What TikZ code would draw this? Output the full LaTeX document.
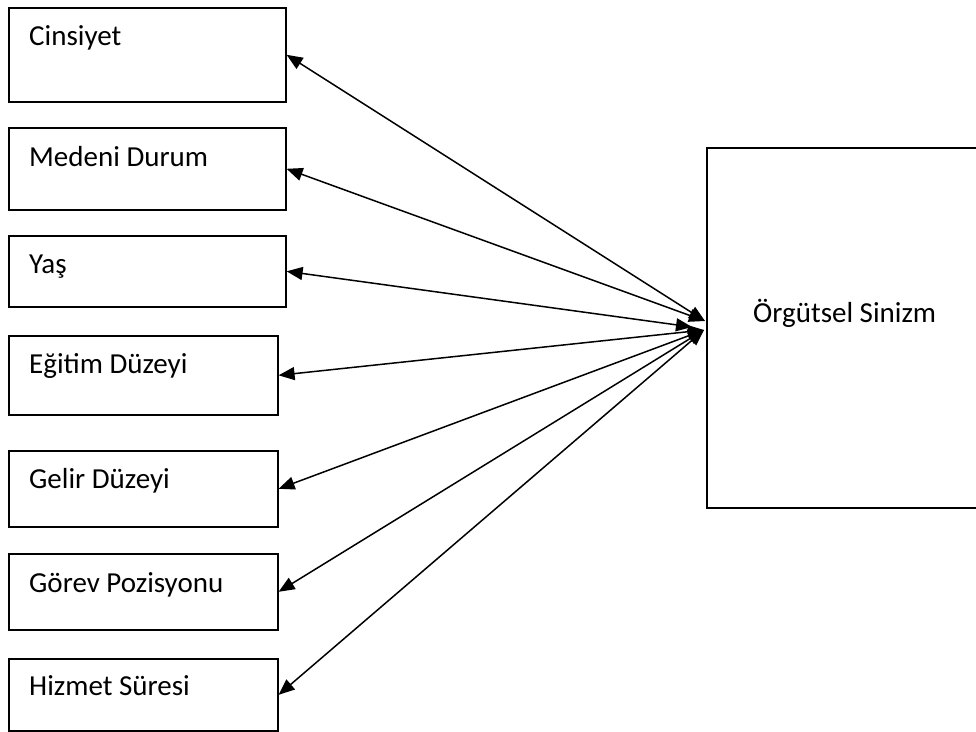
\documentclass[tikz,border=0pt]{standalone}
\usepackage{fontspec}
\setmainfont{Carlito}
\usetikzlibrary{arrows.meta}
\begin{document}
\begin{tikzpicture}[x=1pt,y=-1pt,
  box/.style={draw=black, line width=1.6pt, rectangle, anchor=north west, inner sep=0pt},
  lbl/.style={anchor=base west, inner sep=0pt, font=\fontsize{29}{35}\selectfont},
  link/.style={line width=1.5pt, {Triangle[length=16pt,width=13pt]}-{Triangle[length=16pt,width=13pt]}}]
\useasboundingbox (0,0) rectangle (976,731);
\node[box, minimum width=277pt, minimum height=94pt] (b1) at (8,7) {};
\node[box, minimum width=277pt, minimum height=82pt] (b2) at (8,127) {};
\node[box, minimum width=277pt, minimum height=71pt] (b3) at (8,235) {};
\node[box, minimum width=269pt, minimum height=79pt] (b4) at (8,335) {};
\node[box, minimum width=269pt, minimum height=76pt] (b5) at (8,450) {};
\node[box, minimum width=269pt, minimum height=76pt] (b6) at (8,553) {};
\node[box, minimum width=269pt, minimum height=72pt] (b7) at (8,658) {};
\node[box, minimum width=278pt, minimum height=360pt] (big) at (706,147) {};
\node[lbl] (t1) at (29,45) {Cinsiyet};
\node[lbl] (t2) at (29,166) {Medeni Durum};
\node[lbl] (t3) at (29,273) {Yaş};
\node[lbl] (t4) at (29,373) {Eğitim Düzeyi};
\node[lbl] (t5) at (29,488) {Gelir Düzeyi};
\node[lbl] (t6) at (29,592) {Görev Pozisyonu};
\node[lbl] (t7) at (29,695) {Hizmet Süresi};
\node[lbl] (tb) at (753,322) {Örgütsel Sinizm};
\coordinate (cu) at (705,321);
\coordinate (cy) at (692,327);
\coordinate (cl) at (704,330);
\draw[link] (b1.east) -- (cu);
\draw[link] (b2.east) -- (cu);
\draw[link] (b3.east) -- (cy);
\draw[link] (b4.east) -- (cl);
\draw[link] (b5.east) -- (cl);
\draw[link] (b6.east) -- (cl);
\draw[link] (b7.east) -- (cl);
\end{tikzpicture}
\end{document}
